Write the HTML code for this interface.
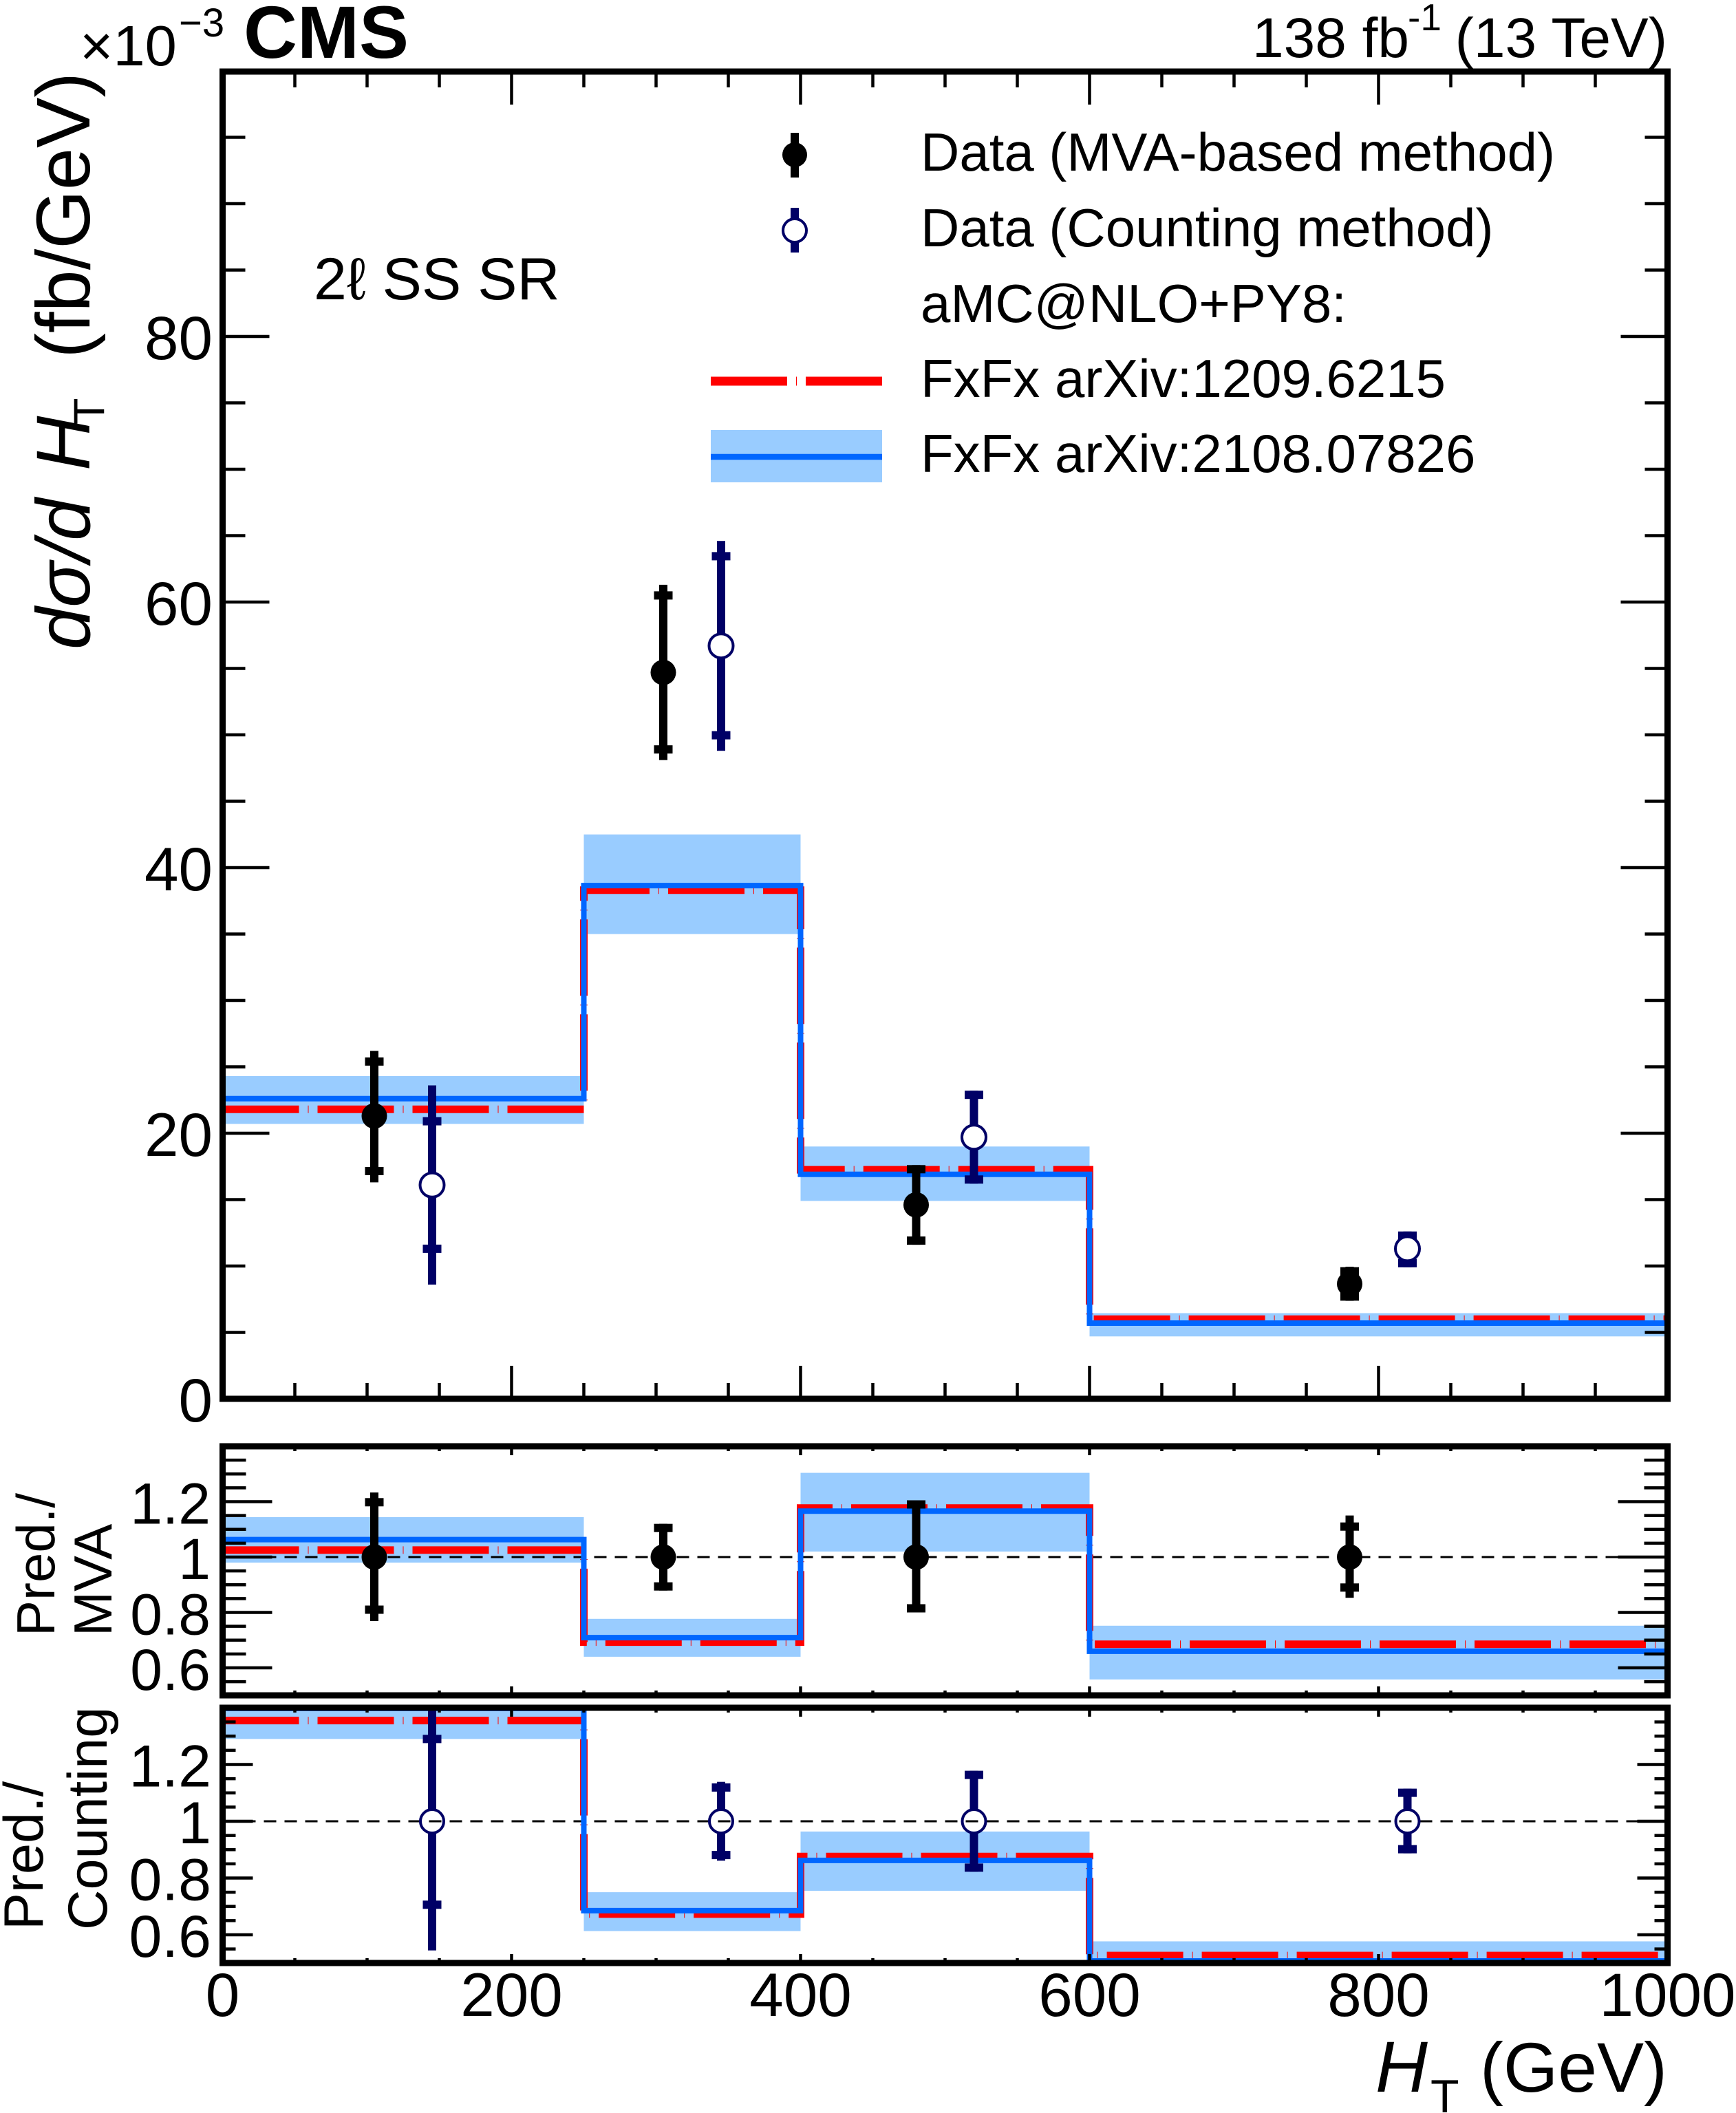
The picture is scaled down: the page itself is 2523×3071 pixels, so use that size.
<!DOCTYPE html>
<html><head><meta charset="utf-8">
<style>
html,body{margin:0;padding:0;background:#fff;}
svg{display:block;}
text{font-family:"Liberation Sans",Arial,sans-serif;fill:#000;}
</style></head><body>
<svg width="2523" height="3071" viewBox="0 0 2523 3071" xmlns="http://www.w3.org/2000/svg">
<defs>
<clipPath id="c0"><rect x="323.5" y="104" width="2100" height="1929"/></clipPath>
<clipPath id="c1"><rect x="323.5" y="2102" width="2100" height="362"/></clipPath>
<clipPath id="c2"><rect x="323.5" y="2482" width="2100" height="371"/></clipPath>
<path id="xm" d="M428.5 0V23M533.5 0V23M638.5 0V23M743.5 0V48M848.5 0V23M953.5 0V23M1058.5 0V23M1163.5 0V48M1268.5 0V23M1373.5 0V23M1478.5 0V23M1583.5 0V48M1688.5 0V23M1793.5 0V23M1898.5 0V23M2003.5 0V48M2108.5 0V23M2213.5 0V23M2318.5 0V23"/>
<path id="xr" d="M428.5 0V7M533.5 0V7M638.5 0V7M743.5 0V13M848.5 0V7M953.5 0V7M1058.5 0V7M1163.5 0V13M1268.5 0V7M1373.5 0V7M1478.5 0V7M1583.5 0V13M1688.5 0V7M1793.5 0V7M1898.5 0V7M2003.5 0V13M2108.5 0V7M2213.5 0V7M2318.5 0V7"/>
<path id="ym" d="M0 1936.5H33M0 1840H33M0 1743.5H33M0 1647H68M0 1550.5H33M0 1454H33M0 1357.5H33M0 1261H68M0 1164.5H33M0 1068H33M0 971.5H33M0 875H68M0 778.5H33M0 682H33M0 585.5H33M0 489H68M0 392.5H33M0 296H33M0 199.5H33"/>
<path id="y1" d="M0 2444.1H34M0 2424H72M0 2403.9H34M0 2383.75H34M0 2363.6H34M0 2343.5H72M0 2323.4H34M0 2303.25H34M0 2283.1H34M0 2263H72M0 2242.9H34M0 2222.75H34M0 2202.6H34M0 2182.5H72M0 2162.4H34M0 2142.25H34M0 2122.1H34"/>
<path id="y2" d="M0 2832.6H19M0 2812H44M0 2791.4H19M0 2770.75H19M0 2750.1H19M0 2729.5H44M0 2708.9H19M0 2688.25H19M0 2667.6H19M0 2647H44M0 2626.4H19M0 2605.75H19M0 2585.1H19M0 2564.5H44M0 2543.9H19M0 2523.25H19M0 2502.6H19"/>
</defs>

<!-- ===== MAIN PLOT ===== -->
<g clip-path="url(#c0)">
  <g fill="#99ccff">
    <rect x="323.5" y="1564" width="525" height="69.5"/>
    <rect x="848.5" y="1212.75" width="315" height="144.75"/>
    <rect x="1163.5" y="1666.3" width="420" height="79.1"/>
    <rect x="1583.5" y="1908.5" width="840" height="33.8"/>
  </g>
  <path d="M323.5 1612.3H848.5V1293.8H1163.5V1700.1H1583.5V1917.2H2423.5" fill="none" stroke="#ff0000" stroke-width="11" stroke-dasharray="111 13 1 13"/>
  <path d="M323.5 1596.8H848.5V1287.1H1163.5V1706.8H1583.5V1923H2423.5" fill="none" stroke="#0066ff" stroke-width="8"/>
</g>

<!-- MVA data main -->
<g fill="#000">
  <rect x="538" y="1527.3" width="12" height="191.1"/>
  <rect x="530.5" y="1536.8" width="27" height="12"/>
  <rect x="530.5" y="1696" width="27" height="12"/>
  <circle cx="544" cy="1621.9" r="18.5"/>

  <rect x="958" y="849.9" width="12" height="254.8"/>
  <rect x="950.5" y="859.4" width="27" height="12"/>
  <rect x="950.5" y="1083.2" width="27" height="12"/>
  <circle cx="964" cy="977.3" r="18.5"/>

  <rect x="1325.5" y="1693.3" width="12" height="115.8"/>
  <rect x="1318" y="1693.3" width="27" height="12"/>
  <rect x="1318" y="1797.1" width="27" height="12"/>
  <circle cx="1331.5" cy="1751.2" r="18.5"/>

  <rect x="1955.5" y="1841" width="12" height="49.6"/>
  <rect x="1948" y="1841.7" width="27" height="12"/>
  <rect x="1948" y="1878.4" width="27" height="12"/>
  <circle cx="1961.5" cy="1866.1" r="18.5"/>
</g>

<!-- Counting data main -->
<g fill="#000066">
  <rect x="622" y="1577.5" width="12" height="126.8"/>
  <rect x="622" y="1740.3" width="12" height="126.7"/>
  <rect x="614.5" y="1623.6" width="27" height="12"/>
  <rect x="614.5" y="1808.9" width="27" height="12"/>

  <rect x="1042" y="786.2" width="12" height="134.5"/>
  <rect x="1042" y="956.7" width="12" height="134.5"/>
  <rect x="1034.5" y="802.4" width="27" height="12"/>
  <rect x="1034.5" y="1062.6" width="27" height="12"/>

  <rect x="1409.5" y="1585.2" width="12" height="49.6"/>
  <rect x="1409.5" y="1670.8" width="12" height="49.5"/>
  <rect x="1402" y="1585.2" width="27" height="12"/>
  <rect x="1402" y="1708.3" width="27" height="12"/>

  <rect x="2039.5" y="1789.8" width="12" height="7.1"/>
  <rect x="2039.5" y="1832.9" width="12" height="9"/>
  <rect x="2032" y="1789.8" width="27" height="12"/>
  <rect x="2032" y="1829.9" width="27" height="12"/>
</g>
<g fill="#fff" stroke="#000066" stroke-width="4">
  <circle cx="628" cy="1722.3" r="17.5"/>
  <circle cx="1048" cy="938.7" r="17.5"/>
  <circle cx="1415.5" cy="1652.8" r="17.5"/>
  <circle cx="2045.5" cy="1814.9" r="17.5"/>
</g>

<!-- ===== RATIO 1 (MVA) ===== -->
<g clip-path="url(#c1)">
  <g fill="#99ccff">
    <rect x="323.5" y="2205" width="525" height="66.1"/>
    <rect x="848.5" y="2352.8" width="315" height="55.1"/>
    <rect x="1163.5" y="2140.6" width="420" height="114.4"/>
    <rect x="1583.5" y="2362.8" width="840" height="78.1"/>
  </g>
  <line x1="323.5" y1="2263" x2="2423.5" y2="2263" stroke="#000" stroke-width="3" stroke-dasharray="18 12"/>
  <path d="M323.5 2252.9H848.5V2386.6H1163.5V2191.8H1583.5V2389.8H2423.5" fill="none" stroke="#ff0000" stroke-width="11" stroke-dasharray="111 13 1 13"/>
  <path d="M323.5 2237.6H848.5V2380.1H1163.5V2196.2H1583.5V2399.9H2423.5" fill="none" stroke="#0066ff" stroke-width="8"/>
</g>
<g fill="#000">
  <rect x="538" y="2169.2" width="12" height="186.8"/>
  <rect x="530.5" y="2177.3" width="27" height="12"/>
  <rect x="530.5" y="2333.5" width="27" height="12"/>
  <circle cx="544" cy="2263" r="18.5"/>

  <rect x="958" y="2214.7" width="12" height="97"/>
  <rect x="950.5" y="2214.7" width="27" height="12"/>
  <rect x="950.5" y="2299.7" width="27" height="12"/>
  <circle cx="964" cy="2263" r="18.5"/>

  <rect x="1325.5" y="2180.5" width="12" height="163"/>
  <rect x="1318" y="2180.5" width="27" height="12"/>
  <rect x="1318" y="2331.5" width="27" height="12"/>
  <circle cx="1331.5" cy="2263" r="18.5"/>

  <rect x="1955.5" y="2202.6" width="12" height="119.6"/>
  <rect x="1948" y="2212.7" width="27" height="12"/>
  <rect x="1948" y="2301.3" width="27" height="12"/>
  <circle cx="1961.5" cy="2263" r="18.5"/>
</g>

<!-- ===== RATIO 2 (Counting) ===== -->
<g clip-path="url(#c2)">
  <g fill="#99ccff">
    <rect x="323.5" y="2470" width="525" height="57.4"/>
    <rect x="848.5" y="2750.1" width="315" height="56.5"/>
    <rect x="1163.5" y="2661.9" width="420" height="86.2"/>
    <rect x="1583.5" y="2821.5" width="840" height="40"/>
  </g>
  <line x1="323.5" y1="2647" x2="2423.5" y2="2647" stroke="#000" stroke-width="3" stroke-dasharray="18 12"/>
  <path d="M323.5 2500.6H848.5V2781.9H1163.5V2698.2H1583.5V2842.1H2423.5" fill="none" stroke="#ff0000" stroke-width="11" stroke-dasharray="111 13 1 13"/>
  <path d="M323.5 2483H848.5V2776.9H1163.5V2703.9H1583.5V2850H2423.5" fill="none" stroke="#0066ff" stroke-width="8"/>
</g>
<g fill="#000066">
  <rect x="622" y="2482" width="12" height="147"/>
  <rect x="622" y="2665" width="12" height="169.7"/>
  <rect x="614.5" y="2521.4" width="27" height="12"/>
  <rect x="614.5" y="2762.3" width="27" height="12"/>

  <rect x="1042" y="2589.7" width="12" height="39.3"/>
  <rect x="1042" y="2665" width="12" height="39.3"/>
  <rect x="1034.5" y="2591.9" width="27" height="12"/>
  <rect x="1034.5" y="2690.1" width="27" height="12"/>

  <rect x="1409.5" y="2573.6" width="12" height="55.4"/>
  <rect x="1409.5" y="2665" width="12" height="55.4"/>
  <rect x="1402" y="2573.6" width="27" height="12"/>
  <rect x="1402" y="2708.4" width="27" height="12"/>

  <rect x="2039.5" y="2599.6" width="12" height="29.4"/>
  <rect x="2039.5" y="2665" width="12" height="28.6"/>
  <rect x="2032" y="2599.6" width="27" height="12"/>
  <rect x="2032" y="2681.6" width="27" height="12"/>
</g>
<g fill="none" stroke="#000066" stroke-width="4">
  <circle cx="628" cy="2647" r="17"/>
  <circle cx="1048" cy="2647" r="17"/>
  <circle cx="1415.5" cy="2647" r="17"/>
  <circle cx="2045.5" cy="2647" r="17"/>
</g>

<!-- ===== FRAMES & TICKS ===== -->
<g fill="none" stroke="#000" stroke-width="9">
  <rect x="323.5" y="104" width="2100" height="1929"/>
  <rect x="323.5" y="2102" width="2100" height="362"/>
  <rect x="323.5" y="2482" width="2100" height="371"/>
</g>
<g fill="none" stroke="#000" stroke-width="4.5">
  <use href="#xm" transform="translate(0,104)"/>
  <use href="#xm" transform="translate(0,2033) scale(1,-1)"/>
  <use href="#ym" transform="translate(323.5,0)"/>
  <use href="#ym" transform="translate(2423.5,0) scale(-1,1)"/>
  <use href="#xr" transform="translate(0,2102)"/>
  <use href="#xr" transform="translate(0,2464) scale(1,-1)"/>
  <use href="#xr" transform="translate(0,2482)"/>
  <use href="#xr" transform="translate(0,2853) scale(1,-1)"/>
  <use href="#y1" transform="translate(323.5,0)"/>
  <use href="#y1" transform="translate(2423.5,0) scale(-1,1)"/>
  <use href="#y2" transform="translate(323.5,0)"/>
  <use href="#y2" transform="translate(2423.5,0) scale(-1,1)"/>
</g>

<!-- ===== TICK LABELS ===== -->
<g font-size="89" text-anchor="end">
  <text x="309" y="2066">0</text>
  <text x="309" y="1680">20</text>
  <text x="309" y="1294">40</text>
  <text x="309" y="908">60</text>
  <text x="309" y="522">80</text>
</g>
<g font-size="84" text-anchor="end">
  <text x="306" y="2456">0.6</text>
  <text x="306" y="2375.5">0.8</text>
  <text x="306" y="2295">1</text>
  <text x="306" y="2214.5">1.2</text>
</g>
<g font-size="86" text-anchor="end">
  <text x="307" y="2844">0.6</text>
  <text x="307" y="2761.5">0.8</text>
  <text x="307" y="2679">1</text>
  <text x="307" y="2596.5">1.2</text>
</g>
<g font-size="89" text-anchor="middle">
  <text x="323.5" y="2930">0</text>
  <text x="743.5" y="2930">200</text>
  <text x="1163.5" y="2930">400</text>
  <text x="1583.5" y="2930">600</text>
  <text x="2003.5" y="2930">800</text>
  <text x="2423.5" y="2930">1000</text>
</g>

<!-- ===== AXIS TITLES ===== -->
<text x="1999" y="3040" font-size="105" font-style="italic">H</text>
<text x="2079" y="3070" font-size="68">T</text>
<text x="2423" y="3040" font-size="102" text-anchor="end">(GeV)</text>

<g font-size="110">
  <text transform="translate(130,944) rotate(-90)" font-style="italic">dσ/d</text>
  <text transform="translate(130,684) rotate(-90)" font-style="italic">H</text>
  <text transform="translate(151,617) rotate(-90)" font-size="63">T</text>
  <text transform="translate(130,105) rotate(-90)" text-anchor="end">(fb/GeV)</text>
</g>

<text transform="translate(79,2378) rotate(-90)" font-size="78">Pred./</text>
<text transform="translate(162,2378) rotate(-90)" font-size="78">MVA</text>
<text transform="translate(62,2805) rotate(-90)" font-size="81">Pred./</text>
<text transform="translate(155,2805) rotate(-90)" font-size="81">Counting</text>

<!-- ===== HEADER ===== -->
<text x="354" y="84" font-size="108" font-weight="bold">CMS</text>
<text x="116" y="95" font-size="83">×10</text>
<text x="260" y="53" font-size="58">−3</text>
<text x="1820" y="83" font-size="82">138 fb</text>
<text x="2046" y="44" font-size="55">-1</text>
<text x="2423" y="83" font-size="82" text-anchor="end">(13 TeV)</text>

<text x="456" y="435" font-size="86">2ℓ SS SR</text>

<!-- ===== LEGEND ===== -->
<rect x="1149" y="193" width="12" height="65" fill="#000"/>
<circle cx="1155" cy="225" r="18" fill="#000"/>
<rect x="1149" y="302" width="12" height="15" fill="#000066"/>
<rect x="1149" y="353" width="12" height="14" fill="#000066"/>
<circle cx="1155" cy="335" r="17" fill="#fff" stroke="#000066" stroke-width="4"/>
<line x1="1033" y1="554" x2="1282" y2="554" stroke="#ff0000" stroke-width="13" stroke-dasharray="111 13 1 13"/>
<rect x="1033" y="625" width="249" height="76" fill="#99ccff"/>
<line x1="1033" y1="664" x2="1282" y2="664" stroke="#0066ff" stroke-width="8.5"/>
<g font-size="78">
  <text x="1338" y="248">Data (MVA-based method)</text>
  <text x="1338" y="358">Data (Counting method)</text>
  <text x="1338" y="468">aMC@NLO+PY8:</text>
  <text x="1338" y="577">FxFx arXiv:1209.6215</text>
  <text x="1338" y="686">FxFx arXiv:2108.07826</text>
</g>
</svg>
</body></html>
